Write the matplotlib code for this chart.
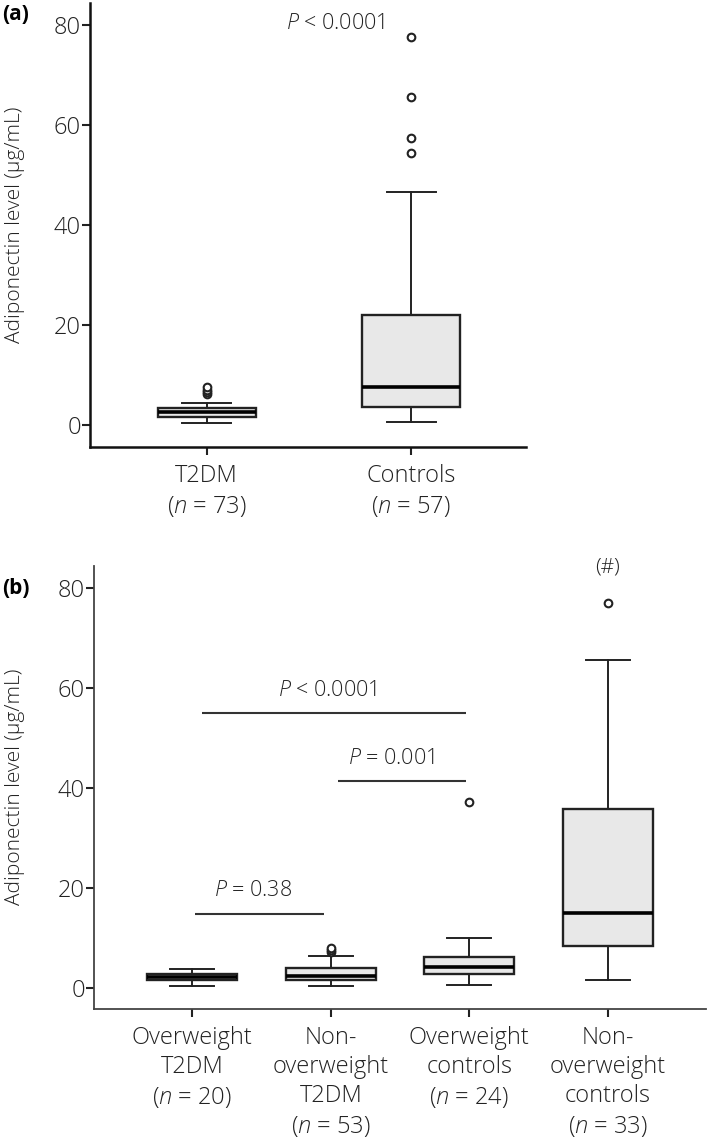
import numpy as np
import matplotlib
matplotlib.use("Agg")
import matplotlib.pyplot as plt

plt.rcParams["font.family"] = ["Open Sans", "DejaVu Sans"]
plt.rcParams["font.weight"] = "light"
plt.rcParams["mathtext.fontset"] = "custom"
plt.rcParams["mathtext.rm"] = "Open Sans:light"
plt.rcParams["mathtext.it"] = "Open Sans:italic:light"

# panel (a): T2DM vs controls
labels_a = ["T2DM\n($\\mathit{n}$ = 73)", "Controls\n($\\mathit{n}$ = 57)"]
q1_a = [1.6, 3.6]
med_a = [2.6, 7.6]
q3_a = [3.4, 22.0]
lo_a = [0.4, 0.6]
hi_a = [4.4, 46.6]
fliers_a = [[6.2, 6.6, 7.1, 7.7], [54.4, 57.4, 65.6, 77.6]]

# panel (b): split by weight
labels_b = [
    "Overweight\nT2DM\n($\\mathit{n}$ = 20)",
    "Non-\noverweight\nT2DM\n($\\mathit{n}$ = 53)",
    "Overweight\ncontrols\n($\\mathit{n}$ = 24)",
    "Non-\noverweight\ncontrols\n($\\mathit{n}$ = 33)",
]
q1_b = [1.6, 1.6, 2.8, 8.4]
med_b = [2.2, 2.4, 4.2, 15.0]
q3_b = [2.8, 4.0, 6.2, 35.8]
lo_b = [0.4, 0.4, 0.6, 1.6]
hi_b = [3.8, 6.4, 10.0, 65.6]
fliers_b = [[], [7.2, 7.6, 8.0], [37.2], [77.0]]

# comparison bars: (x0, x1, y, text, text x, text y)
comparisons_b = [
    (1.02, 1.95, 14.8, "$\\mathit{P}$ = 0.38", 1.44, 19.6),
    (1.07, 2.98, 55.0, "$\\mathit{P}$ < 0.0001", 1.975, 59.6),
    (2.05, 2.98, 41.4, "$\\mathit{P}$ = 0.001", 2.44, 46.0),
]

W, H = 709, 1141
fig = plt.figure(figsize=(W / 100, H / 100), dpi=100)

box_color = "#e8e8e8"
edge = "#222222"


def stats(q1, med, q3, lo, hi, fl):
    return [dict(q1=a, med=b, q3=c, whislo=d, whishi=e, fliers=f)
            for a, b, c, d, e, f in zip(q1, med, q3, lo, hi, fl)]


def draw(ax, st, width, capw, labels, spine_lw, spine_color):
    ax.bxp(st, positions=range(1, len(st) + 1), widths=width, patch_artist=True,
           capwidths=capw,
           boxprops=dict(facecolor=box_color, edgecolor=edge, linewidth=1.7),
           medianprops=dict(color="black", linewidth=2.6),
           whiskerprops=dict(color=edge, linewidth=1.4),
           capprops=dict(color=edge, linewidth=1.4),
           flierprops=dict(marker="o", markersize=5.5, markerfacecolor="white",
                           markeredgecolor=edge, markeredgewidth=1.5))
    for s in ["top", "right"]:
        ax.spines[s].set_visible(False)
    for s in ["left", "bottom"]:
        ax.spines[s].set_linewidth(spine_lw)
        ax.spines[s].set_color(spine_color)
    ax.set_yticks([0, 20, 40, 60, 80])
    ax.set_xticks(range(1, len(st) + 1))
    ax.set_xticklabels(labels, linespacing=1.28)
    ax.tick_params(axis="both", length=5.5, width=1.5, color="#222222",
                   labelsize=17, labelcolor="#222222")
    ax.tick_params(axis="y", pad=1)
    ax.tick_params(axis="x", pad=7)


def px_axes(l, r, t, b):
    return fig.add_axes([l / W, 1 - b / H, (r - l) / W, (b - t) / H])


ax_a = px_axes(90, 526, 3, 447)
draw(ax_a, stats(q1_a, med_a, q3_a, lo_a, hi_a, fliers_a), 0.48, 0.24,
     labels_a, 1.8, "#111111")
ax_a.set_xlim(0.43, 2.56)
ax_a.set_ylim(-4.4, 84.4)
ax_a.text(1.63, 80.3, "$\\mathit{P}$ < 0.0001", ha="center", va="center",
          fontsize=15.5, color="#222222")

ax_b = px_axes(94, 706, 566, 1009)
draw(ax_b, stats(q1_b, med_b, q3_b, lo_b, hi_b, fliers_b), 0.65, 0.32,
     labels_b, 1.3, "#444444")
ax_b.set_xlim(0.29, 4.71)
ax_b.set_ylim(-4.2, 84.4)
for x0, x1, y, txt, tx, ty in comparisons_b:
    ax_b.plot([x0, x1], [y, y], color="#333333", lw=1.5, solid_capstyle="butt")
    ax_b.text(tx, ty, txt, ha="center", va="center", fontsize=15.5, color="#222222")
ax_b.text(4.0, 84.2, "(#)", ha="center", va="center", fontsize=15,
          color="#222222", clip_on=False)

for yc in [225, 787]:
    fig.text(15 / W, 1 - yc / H, "Adiponectin level (\u00b5g/mL)", rotation=90,
             ha="center", va="center", fontsize=15, color="#222222")
fig.text(2 / W, 1 - 14 / H, "(a)", ha="left", va="center", fontsize=15,
         fontweight="bold")
fig.text(2 / W, 1 - 588 / H, "(b)", ha="left", va="center", fontsize=15,
         fontweight="bold")

fig.savefig("out.png", dpi=100)
